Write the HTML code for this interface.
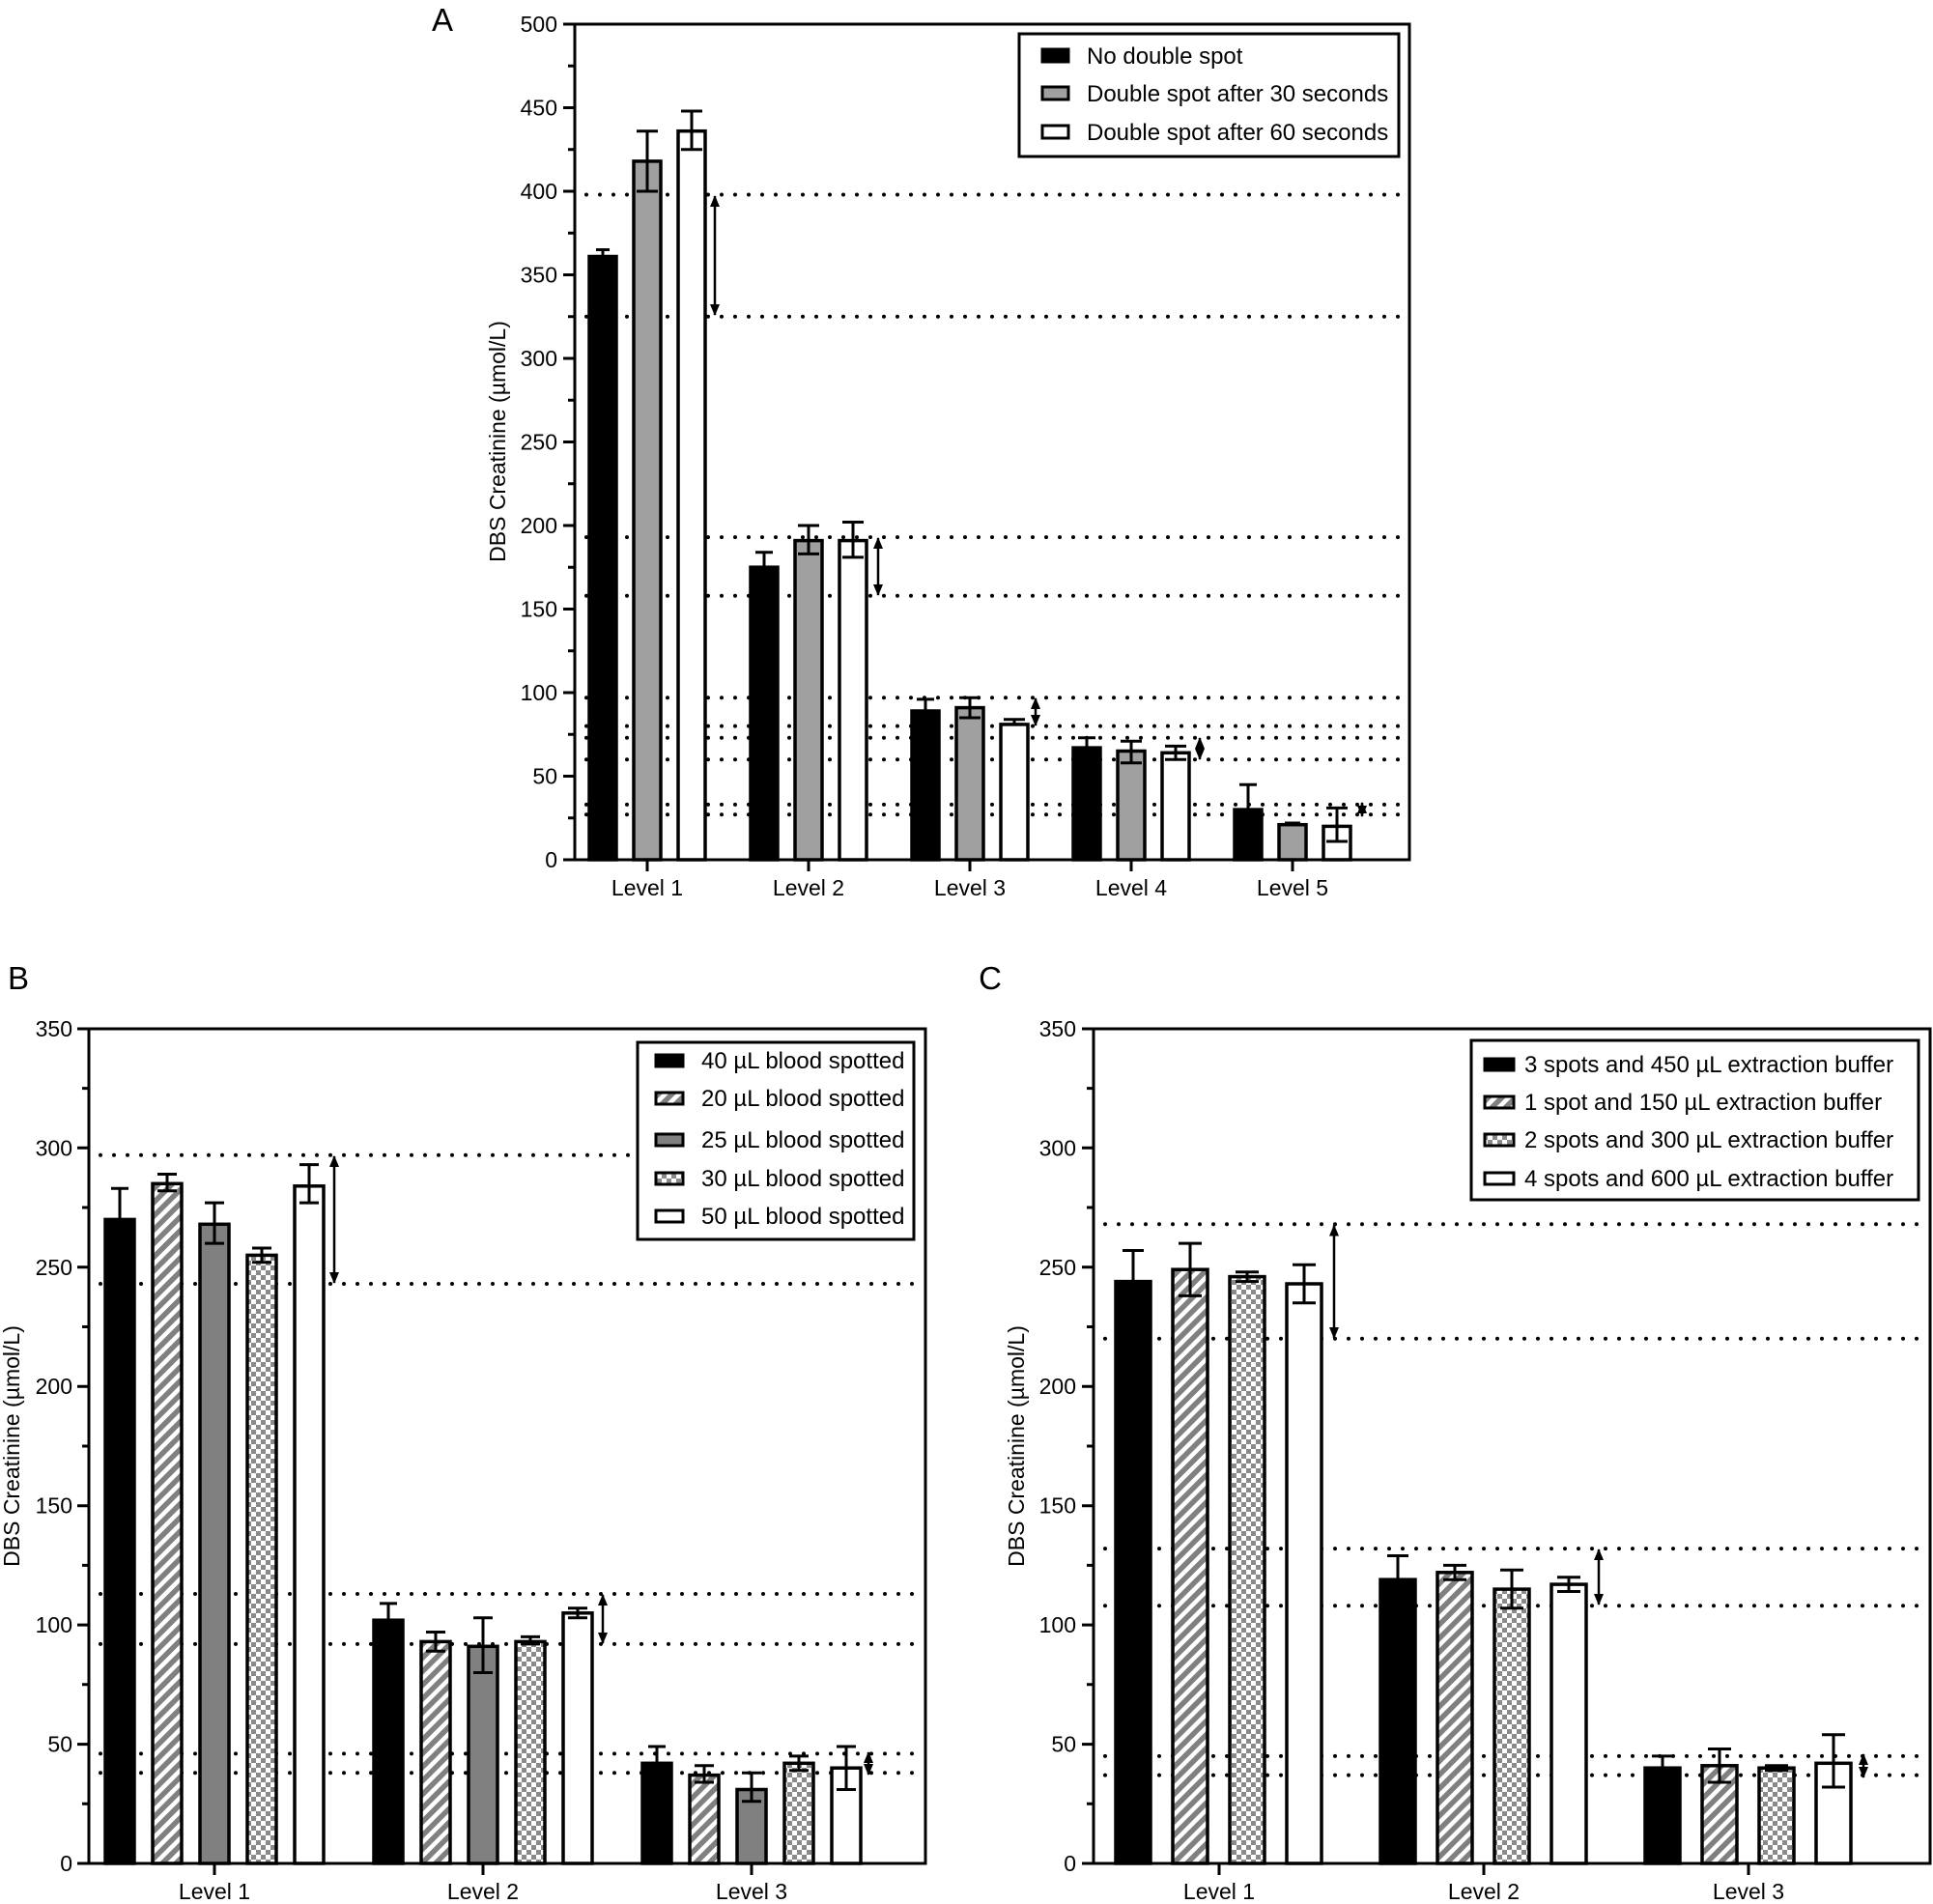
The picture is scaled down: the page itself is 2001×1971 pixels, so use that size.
<!DOCTYPE html>
<html><head><meta charset="utf-8"><style>
html,body{margin:0;padding:0;background:#fff;}
svg{display:block;font-family:"Liberation Sans",Arial,sans-serif;}
</style></head><body>
<svg width="2001" height="1971" viewBox="0 0 2001 1971" xmlns="http://www.w3.org/2000/svg">
<defs>
<pattern id="hatch" patternUnits="userSpaceOnUse" width="10" height="10" patternTransform="rotate(45)">
<rect width="10" height="10" fill="#fff"/><rect width="5.5" height="10" fill="#808080"/></pattern>
<pattern id="check" patternUnits="userSpaceOnUse" width="10" height="10">
<rect width="10" height="10" fill="#fff"/><rect width="5" height="5" fill="#8a8a8a"/><rect x="5" y="5" width="5" height="5" fill="#8a8a8a"/></pattern>
<marker id="ah" viewBox="0 0 12 10" refX="11" refY="5" markerUnits="userSpaceOnUse" markerWidth="12" markerHeight="10" orient="auto-start-reverse"><path d="M0,0 L12,5 L0,10 z" fill="#000"/></marker>
</defs>

<!-- ================= PANEL A ================= -->
<text x="458" y="32" font-size="33" text-anchor="middle">A</text>
<g stroke="#000" stroke-width="4" stroke-linecap="round" stroke-dasharray="0 14" fill="none">
<line x1="607" y1="201.5" x2="1459" y2="201.5"/>
<line x1="607" y1="327.8" x2="1459" y2="327.8"/>
<line x1="607" y1="556.1" x2="1459" y2="556.1"/>
<line x1="607" y1="616.7" x2="1459" y2="616.7"/>
<line x1="607" y1="722.2" x2="1459" y2="722.2"/>
<line x1="607" y1="751.6" x2="1459" y2="751.6"/>
<line x1="607" y1="763.7" x2="1459" y2="763.7"/>
<line x1="607" y1="786.2" x2="1459" y2="786.2"/>
<line x1="607" y1="832.9" x2="1459" y2="832.9"/>
<line x1="607" y1="843.3" x2="1459" y2="843.3"/>
</g>
<g stroke="#000" stroke-width="3.5">
<rect x="610" y="265.5" width="28" height="624.5" fill="#000"/>
<rect x="656" y="166.9" width="28" height="723.1" fill="#a0a0a0"/>
<rect x="702" y="135.7" width="28" height="754.3" fill="#fff"/>
<rect x="777" y="587.2" width="28" height="302.8" fill="#000"/>
<rect x="823" y="559.6" width="28" height="330.4" fill="#a0a0a0"/>
<rect x="869" y="559.6" width="28" height="330.4" fill="#fff"/>
<rect x="944" y="736" width="28" height="154" fill="#000"/>
<rect x="990" y="732.6" width="28" height="157.4" fill="#a0a0a0"/>
<rect x="1036" y="749.9" width="28" height="140.1" fill="#fff"/>
<rect x="1111" y="774.1" width="28" height="115.9" fill="#000"/>
<rect x="1157" y="777.5" width="28" height="112.5" fill="#a0a0a0"/>
<rect x="1203" y="779.3" width="28" height="110.7" fill="#fff"/>
<rect x="1278" y="838.1" width="28" height="51.9" fill="#000"/>
<rect x="1324" y="853.7" width="28" height="36.3" fill="#a0a0a0"/>
<rect x="1370" y="855.4" width="28" height="34.6" fill="#fff"/>
</g>
<g stroke="#000" stroke-width="3" fill="none">
<path d="M624,265 V258.5 M617,258.5 H631"/>
<path d="M670,198 V135.7 M659,198 H681 M659,135.7 H681"/>
<path d="M716,154.8 V115 M705,154.8 H727 M705,115 H727"/>
<path d="M791,587 V571.7 M782,571.7 H800"/>
<path d="M837,573.4 V544 M826,573.4 H848 M826,544 H848"/>
<path d="M883,576.9 V540.5 M872,576.9 H894 M872,540.5 H894"/>
<path d="M958,736 V723.9 M949,723.9 H967"/>
<path d="M1004,743 V722.2 M993,743 H1015 M993,722.2 H1015"/>
<path d="M1050,750 V744.7 M1039,744.7 H1061"/>
<path d="M1125,774 V763.7 M1116,763.7 H1134"/>
<path d="M1171,789.7 V767.2 M1160,789.7 H1182 M1160,767.2 H1182"/>
<path d="M1217,786.2 V772.4 M1206,786.2 H1228 M1206,772.4 H1228"/>
<path d="M1292,838 V812.2 M1283,812.2 H1301"/>
<path d="M1330,852 H1346"/>
<path d="M1384,871 V836.4 M1373,871 H1395 M1373,836.4 H1395"/>
</g>
<g stroke="#000" stroke-width="2.5" marker-start="url(#ah)" marker-end="url(#ah)">
<line x1="740" y1="203" x2="740" y2="326"/>
<line x1="909" y1="557" x2="909" y2="616"/>
<line x1="1072" y1="723" x2="1072" y2="751"/>
<line x1="1242" y1="764" x2="1242" y2="786"/>
<line x1="1410" y1="831" x2="1410" y2="845"/>
</g>
<rect x="595" y="25" width="864" height="865" fill="none" stroke="#000" stroke-width="3"/>
<g stroke="#000" stroke-width="3">
<path d="M583,890H595M583,803.5H595M583,717H595M583,630.5H595M583,544H595M583,457.5H595M583,371H595M583,284.5H595M583,198H595M583,111.5H595M583,25H595"/>
<path d="M588,846.75H595M588,760.25H595M588,673.75H595M588,587.25H595M588,500.75H595M588,414.25H595M588,327.75H595M588,241.25H595M588,154.75H595M588,68.25H595"/>
<path d="M670,890V902M837,890V902M1004,890V902M1171,890V902M1338,890V902"/>
</g>
<g font-size="23" text-anchor="end">
<text x="577" y="898">0</text><text x="577" y="811.5">50</text><text x="577" y="725">100</text>
<text x="577" y="638.5">150</text><text x="577" y="552">200</text><text x="577" y="465.5">250</text>
<text x="577" y="379">300</text><text x="577" y="292.5">350</text><text x="577" y="206">400</text>
<text x="577" y="119.5">450</text><text x="577" y="33">500</text>
</g>
<g font-size="23" text-anchor="middle">
<text x="670" y="927">Level 1</text><text x="837" y="927">Level 2</text><text x="1004" y="927">Level 3</text>
<text x="1171" y="927">Level 4</text><text x="1338" y="927">Level 5</text>
</g>
<text transform="translate(523,457) rotate(-90)" font-size="23" text-anchor="middle">DBS Creatinine (µmol/L)</text>
<rect x="1055" y="35" width="393" height="127" fill="#fff" stroke="#000" stroke-width="3"/>
<rect x="1079" y="51" width="27" height="13" fill="#000" stroke="#000" stroke-width="3"/>
<rect x="1079" y="90" width="27" height="13" fill="#a0a0a0" stroke="#000" stroke-width="3"/>
<rect x="1079" y="130" width="27" height="13" fill="#fff" stroke="#000" stroke-width="3"/>
<g font-size="24"><text x="1125" y="66">No double spot</text><text x="1125" y="105">Double spot after 30 seconds</text><text x="1125" y="145">Double spot after 60 seconds</text></g>

<!-- ================= PANEL B ================= -->
<text x="19" y="1024" font-size="33" text-anchor="middle">B</text>
<g stroke="#000" stroke-width="4" stroke-linecap="round" stroke-dasharray="0 14" fill="none">
<line x1="104" y1="1195.7" x2="958" y2="1195.7"/>
<line x1="104" y1="1329" x2="958" y2="1329"/>
<line x1="104" y1="1650" x2="958" y2="1650"/>
<line x1="104" y1="1701.9" x2="958" y2="1701.9"/>
<line x1="104" y1="1815.4" x2="958" y2="1815.4"/>
<line x1="104" y1="1835.2" x2="958" y2="1835.2"/>
</g>
<g stroke="#000" stroke-width="3.5">
<rect x="109" y="1262.4" width="30" height="666.6" fill="#000"/>
<rect x="158" y="1225.3" width="30" height="703.7" fill="url(#hatch)"/>
<rect x="207" y="1267.3" width="30" height="661.7" fill="#808080"/>
<rect x="256" y="1299.4" width="30" height="629.6" fill="url(#check)"/>
<rect x="305" y="1227.8" width="30" height="701.2" fill="#fff"/>
<rect x="387" y="1677.2" width="30" height="251.8" fill="#000"/>
<rect x="436" y="1699.4" width="30" height="229.6" fill="url(#hatch)"/>
<rect x="485" y="1704.3" width="30" height="224.7" fill="#808080"/>
<rect x="534" y="1699.4" width="30" height="229.6" fill="url(#check)"/>
<rect x="583" y="1669.8" width="30" height="259.2" fill="#fff"/>
<rect x="665" y="1825.3" width="30" height="103.7" fill="#000"/>
<rect x="714" y="1837.6" width="30" height="91.4" fill="url(#hatch)"/>
<rect x="763" y="1852.5" width="30" height="76.5" fill="#808080"/>
<rect x="812" y="1825.3" width="30" height="103.7" fill="url(#check)"/>
<rect x="861" y="1830.2" width="30" height="98.8" fill="#fff"/>
</g>
<g stroke="#000" stroke-width="3" fill="none">
<path d="M124,1262 V1230.3 M115,1230.3 H133"/>
<path d="M173,1232.7 V1215.5 M163,1232.7 H183 M163,1215.5 H183"/>
<path d="M222,1287.1 V1245.1 M212,1287.1 H232 M212,1245.1 H232"/>
<path d="M271,1306.8 V1292 M261,1306.8 H281 M261,1292 H281"/>
<path d="M320,1245.1 V1205.6 M310,1245.1 H330 M310,1205.6 H330"/>
<path d="M402,1677 V1659.9 M393,1659.9 H411"/>
<path d="M451,1709.3 V1689.5 M441,1709.3 H461 M441,1689.5 H461"/>
<path d="M500,1731.5 V1674.7 M490,1731.5 H510 M490,1674.7 H510"/>
<path d="M549,1701.9 V1694.4 M539,1701.9 H559 M539,1694.4 H559"/>
<path d="M598,1674.7 V1664.8 M588,1674.7 H608 M588,1664.8 H608"/>
<path d="M680,1825 V1808 M671,1808 H689"/>
<path d="M729,1845 V1827.8 M719,1845 H739 M719,1827.8 H739"/>
<path d="M778,1864.8 V1835.2 M768,1864.8 H788 M768,1835.2 H788"/>
<path d="M827,1832.7 V1817.9 M817,1832.7 H837 M817,1817.9 H837"/>
<path d="M876,1852.5 V1808 M866,1852.5 H886 M866,1808 H886"/>
</g>
<g stroke="#000" stroke-width="2.5" marker-start="url(#ah)" marker-end="url(#ah)">
<line x1="346" y1="1197" x2="346" y2="1328"/>
<line x1="624" y1="1651" x2="624" y2="1701"/>
<line x1="899" y1="1814" x2="899" y2="1837"/>
</g>
<rect x="92" y="1065" width="866" height="864" fill="none" stroke="#000" stroke-width="3"/>
<g stroke="#000" stroke-width="3">
<path d="M80,1929H92M80,1805.6H92M80,1682.1H92M80,1558.7H92M80,1435.2H92M80,1311.8H92M80,1188.3H92M80,1065H92"/>
<path d="M85,1867.3H92M85,1743.8H92M85,1620.4H92M85,1497H92M85,1373.5H92M85,1250H92M85,1126.6H92"/>
<path d="M222,1929V1941M500,1929V1941M778,1929V1941"/>
</g>
<g font-size="23" text-anchor="end">
<text x="75" y="1937">0</text><text x="75" y="1813.6">50</text><text x="75" y="1690.1">100</text>
<text x="75" y="1566.7">150</text><text x="75" y="1443.2">200</text><text x="75" y="1319.8">250</text>
<text x="75" y="1196.3">300</text><text x="75" y="1073">350</text>
</g>
<g font-size="23" text-anchor="middle">
<text x="222" y="1966">Level 1</text><text x="500" y="1966">Level 2</text><text x="778" y="1966">Level 3</text>
</g>
<text transform="translate(20,1497) rotate(-90)" font-size="23" text-anchor="middle">DBS Creatinine (µmol/L)</text>
<rect x="660" y="1079" width="286" height="204" fill="#fff" stroke="#000" stroke-width="3"/>
<rect x="679" y="1092" width="28" height="12" fill="#000" stroke="#000" stroke-width="3"/>
<rect x="679" y="1131" width="28" height="12" fill="url(#hatch)" stroke="#000" stroke-width="3"/>
<rect x="679" y="1174" width="28" height="12" fill="#808080" stroke="#000" stroke-width="3"/>
<rect x="679" y="1214" width="28" height="12" fill="url(#check)" stroke="#000" stroke-width="3"/>
<rect x="679" y="1253" width="28" height="12" fill="#fff" stroke="#000" stroke-width="3"/>
<g font-size="24"><text x="726" y="1106">40 µL blood spotted</text><text x="726" y="1145">20 µL blood spotted</text>
<text x="726" y="1188">25 µL blood spotted</text><text x="726" y="1228">30 µL blood spotted</text><text x="726" y="1267">50 µL blood spotted</text></g>

<!-- ================= PANEL C ================= -->
<text x="1025" y="1024" font-size="33" text-anchor="middle">C</text>
<g stroke="#000" stroke-width="4" stroke-linecap="round" stroke-dasharray="0 14" fill="none">
<line x1="1144" y1="1267.3" x2="1998" y2="1267.3"/>
<line x1="1144" y1="1385.8" x2="1998" y2="1385.8"/>
<line x1="1144" y1="1603.1" x2="1998" y2="1603.1"/>
<line x1="1144" y1="1662.3" x2="1998" y2="1662.3"/>
<line x1="1144" y1="1817.9" x2="1998" y2="1817.9"/>
<line x1="1144" y1="1837.6" x2="1998" y2="1837.6"/>
</g>
<g stroke="#000" stroke-width="3.5">
<rect x="1155" y="1326.6" width="36" height="602.4" fill="#000"/>
<rect x="1214" y="1314.2" width="36" height="614.8" fill="url(#hatch)"/>
<rect x="1273" y="1321.6" width="36" height="607.4" fill="url(#check)"/>
<rect x="1332" y="1329" width="36" height="600" fill="#fff"/>
<rect x="1429" y="1635.2" width="36" height="293.8" fill="#000"/>
<rect x="1488" y="1627.8" width="36" height="301.2" fill="url(#hatch)"/>
<rect x="1547" y="1645.1" width="36" height="283.9" fill="url(#check)"/>
<rect x="1606" y="1640.1" width="36" height="288.9" fill="#fff"/>
<rect x="1703" y="1830.2" width="36" height="98.8" fill="#000"/>
<rect x="1762" y="1827.8" width="36" height="101.2" fill="url(#hatch)"/>
<rect x="1821" y="1830.2" width="36" height="98.8" fill="url(#check)"/>
<rect x="1880" y="1825.3" width="36" height="103.7" fill="#fff"/>
</g>
<g stroke="#000" stroke-width="3" fill="none">
<path d="M1173,1326 V1294.5 M1162,1294.5 H1184"/>
<path d="M1232,1341.4 V1287.1 M1220,1341.4 H1244 M1220,1287.1 H1244"/>
<path d="M1291,1326.6 V1316.7 M1279,1326.6 H1303 M1279,1316.7 H1303"/>
<path d="M1350,1348.8 V1309.3 M1338,1348.8 H1362 M1338,1309.3 H1362"/>
<path d="M1447,1635 V1610.5 M1436,1610.5 H1458"/>
<path d="M1506,1635.2 V1620.4 M1494,1635.2 H1518 M1494,1620.4 H1518"/>
<path d="M1565,1664.8 V1625.3 M1553,1664.8 H1577 M1553,1625.3 H1577"/>
<path d="M1624,1647.5 V1632.7 M1612,1647.5 H1636 M1612,1632.7 H1636"/>
<path d="M1721,1830 V1817.9 M1710,1817.9 H1732"/>
<path d="M1780,1845 V1810.5 M1768,1845 H1792 M1768,1810.5 H1792"/>
<path d="M1839,1832.7 V1827.8 M1827,1832.7 H1851 M1827,1827.8 H1851"/>
<path d="M1898,1850 V1795.7 M1886,1850 H1910 M1886,1795.7 H1910"/>
</g>
<g stroke="#000" stroke-width="2.5" marker-start="url(#ah)" marker-end="url(#ah)">
<line x1="1381" y1="1268.5" x2="1381" y2="1385"/>
<line x1="1655" y1="1604" x2="1655" y2="1661"/>
<line x1="1929" y1="1816" x2="1929" y2="1840"/>
</g>
<rect x="1132" y="1065" width="866" height="864" fill="none" stroke="#000" stroke-width="3"/>
<g stroke="#000" stroke-width="3">
<path d="M1120,1929H1132M1120,1805.6H1132M1120,1682.1H1132M1120,1558.7H1132M1120,1435.2H1132M1120,1311.8H1132M1120,1188.3H1132M1120,1065H1132"/>
<path d="M1125,1867.3H1132M1125,1743.8H1132M1125,1620.4H1132M1125,1497H1132M1125,1373.5H1132M1125,1250H1132M1125,1126.6H1132"/>
<path d="M1262,1929V1941M1536,1929V1941M1810,1929V1941"/>
</g>
<g font-size="23" text-anchor="end">
<text x="1114" y="1937">0</text><text x="1114" y="1813.6">50</text><text x="1114" y="1690.1">100</text>
<text x="1114" y="1566.7">150</text><text x="1114" y="1443.2">200</text><text x="1114" y="1319.8">250</text>
<text x="1114" y="1196.3">300</text><text x="1114" y="1073">350</text>
</g>
<g font-size="23" text-anchor="middle">
<text x="1262" y="1966">Level 1</text><text x="1536" y="1966">Level 2</text><text x="1810" y="1966">Level 3</text>
</g>
<text transform="translate(1060,1497) rotate(-90)" font-size="23" text-anchor="middle">DBS Creatinine (µmol/L)</text>
<rect x="1523" y="1077" width="463" height="165" fill="#fff" stroke="#000" stroke-width="3"/>
<rect x="1537" y="1096" width="30" height="12" fill="#000" stroke="#000" stroke-width="3"/>
<rect x="1537" y="1135" width="30" height="12" fill="url(#hatch)" stroke="#000" stroke-width="3"/>
<rect x="1537" y="1174" width="30" height="12" fill="url(#check)" stroke="#000" stroke-width="3"/>
<rect x="1537" y="1214" width="30" height="12" fill="#fff" stroke="#000" stroke-width="3"/>
<g font-size="24"><text x="1578" y="1110">3 spots and 450 µL extraction buffer</text><text x="1578" y="1149">1 spot and 150 µL extraction buffer</text>
<text x="1578" y="1188">2 spots and 300 µL extraction buffer</text><text x="1578" y="1228">4 spots and 600 µL extraction buffer</text></g>
</svg>
</body></html>
